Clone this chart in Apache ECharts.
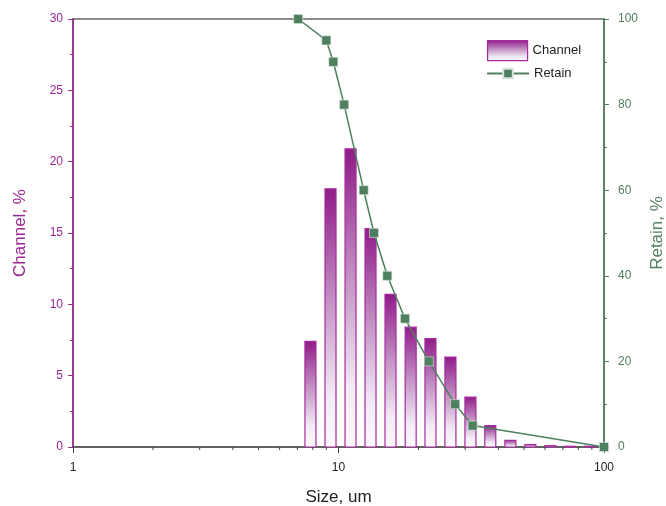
<!DOCTYPE html>
<html>
<head>
<meta charset="utf-8">
<script src="https://cdn.jsdelivr.net/npm/echarts@6/dist/echarts.min.js"></script>
<style>html,body{margin:0;padding:0;background:#fff;overflow:hidden;}#chart{width:666px;height:506px;}</style>
</head>
<body>
<div id="chart"></div>
<script>
// ---- data ----
const channelSize = [7.84, 9.33, 11.1, 13.2, 15.7, 18.7, 22.2, 26.4, 31.4, 37.3, 44.4, 52.8, 62.8, 74.6, 88.7];
const channelValue = [7.4, 18.1, 20.9, 15.3, 10.7, 8.4, 7.6, 6.3, 3.5, 1.5, 0.47, 0.17, 0.1, 0.05, 0.05];
const retainSize = [7.05, 9.0, 9.56, 10.5, 12.44, 13.6, 15.27, 17.8, 21.9, 27.5, 32.0, 100];
const retainValue = [100, 95, 90, 80, 60, 50, 40, 30, 20, 10, 5, 0];
const minorTickValues = [2, 3, 4, 5, 6, 7, 8, 9, 20, 30, 40, 50, 60, 70, 80, 90];

const PURPLE = '#9b2590';
const BAR_BORDER = '#a82a9f';
const GREEN = '#4e7f5e';
const BIN_RATIO = Math.pow(2, 0.25);
const BAR_FRACTION = 0.55;

function barGradient() {
  return new echarts.graphic.LinearGradient(0, 0, 0, 1, [
    {offset: 0, color: '#8f1a88'},
    {offset: 0.45, color: '#c496c6'},
    {offset: 0.8, color: '#f1ecf5'},
    {offset: 1, color: '#fbf9fc'}
  ]);
}

const chart = echarts.init(document.getElementById('chart'), null, {renderer: 'canvas', width: 666, height: 506});
const FONT = 'Liberation Sans, Arial, sans-serif';

const option = {
  animation: false,
  backgroundColor: '#fff',
  textStyle: {fontFamily: FONT},
  grid: {left: 73, right: 62, top: 19, bottom: 59, containLabel: false, outerBoundsMode: 'none',
         show: true, borderColor: '#666', borderWidth: 1.5, backgroundColor: 'transparent'},
  legend: [
    {
      data: [{name: 'Channel', icon: 'rect', itemStyle: {color: barGradient(), borderColor: BAR_BORDER, borderWidth: 1.2}}],
      left: 487, top: 40, padding: 0, itemWidth: 40, itemHeight: 20, selectedMode: false,
      textStyle: {fontFamily: FONT, fontSize: 13, color: '#222'}
    },
    {
      data: ['Retain'],
      left: 486, top: 67, padding: 0, itemWidth: 42, itemHeight: 12, selectedMode: false,
      textStyle: {fontFamily: FONT, fontSize: 13, color: '#222'}
    }
  ],
  xAxis: [
    {
      type: 'log', logBase: 10, min: 1, max: 100, position: 'bottom',
      name: 'Size, um', nameLocation: 'middle', nameGap: 42,
      nameTextStyle: {fontFamily: FONT, fontSize: 17, color: '#222'},
      axisLine: {show: true, lineStyle: {color: '#555', width: 1.5}},
      axisTick: {show: true, length: 6, lineStyle: {color: '#444', width: 1}},
      axisLabel: {fontFamily: FONT, fontSize: 12, color: '#222', margin: 15},
      splitLine: {show: false}
    }
  ],
  yAxis: [
    {
      type: 'value', min: 0, max: 30, interval: 5, position: 'left',
      name: 'Channel, %', nameLocation: 'middle', nameGap: 44,
      nameTextStyle: {fontFamily: FONT, fontSize: 17, color: PURPLE},
      axisLine: {show: true, lineStyle: {color: PURPLE, width: 1.5}},
      axisTick: {show: true, length: 5, lineStyle: {color: PURPLE}},
      minorTick: {show: true, splitNumber: 2, length: 3, lineStyle: {color: PURPLE}},
      axisLabel: {fontFamily: FONT, fontSize: 12, color: PURPLE, margin: 10},
      splitLine: {show: false}
    },
    {
      type: 'value', min: 0, max: 100, interval: 20, position: 'right',
      name: 'Retain, %', nameLocation: 'middle', nameGap: 44,
      nameTextStyle: {fontFamily: FONT, fontSize: 17, color: GREEN},
      axisLine: {show: true, lineStyle: {color: GREEN, width: 1.5}},
      axisTick: {show: true, length: 5, lineStyle: {color: GREEN}},
      minorTick: {show: true, splitNumber: 2, length: 3, lineStyle: {color: GREEN}},
      axisLabel: {fontFamily: FONT, fontSize: 12, color: GREEN, margin: 14},
      splitLine: {show: false}
    }
  ],
  series: [
    {
      name: 'Channel', type: 'custom', xAxisIndex: 0, yAxisIndex: 0, z: 1,
      itemStyle: {color: PURPLE},
      data: channelSize.map((s, i) => [s, channelValue[i]]),
      renderItem: function (params, api) {
        const x = api.value(0), y = api.value(1);
        const half = Math.pow(BIN_RATIO, BAR_FRACTION / 2);
        const p0 = api.coord([x / half, y]);
        const p1 = api.coord([x * half, 0]);
        return {
          type: 'rect',
          shape: {x: p0[0], y: p0[1], width: p1[0] - p0[0], height: p1[1] - p0[1]},
          style: {fill: barGradient(), stroke: BAR_BORDER, lineWidth: 1.2}
        };
      }
    },
    {
      name: 'minorTicks', type: 'custom', xAxisIndex: 0, yAxisIndex: 0, z: 5, silent: true,
      clip: false,
      data: minorTickValues.map(v => [v, 0]),
      renderItem: function (params, api) {
        const p = api.coord([api.value(0), 0]);
        return {
          type: 'line',
          shape: {x1: p[0], y1: p[1], x2: p[0], y2: p[1] + 3},
          style: {stroke: '#444', lineWidth: 1}
        };
      }
    },
    {
      name: 'Retain', type: 'line', xAxisIndex: 0, yAxisIndex: 1, z: 3, clip: false,
      data: retainSize.map((s, i) => [s, retainValue[i]]),
      symbol: 'rect', symbolSize: 9,
      itemStyle: {color: GREEN, borderColor: '#d6e4da', borderWidth: 0.6},
      lineStyle: {color: GREEN, width: 1.5}
    }
  ]
};
chart.setOption(option);
</script>
</body>
</html>
